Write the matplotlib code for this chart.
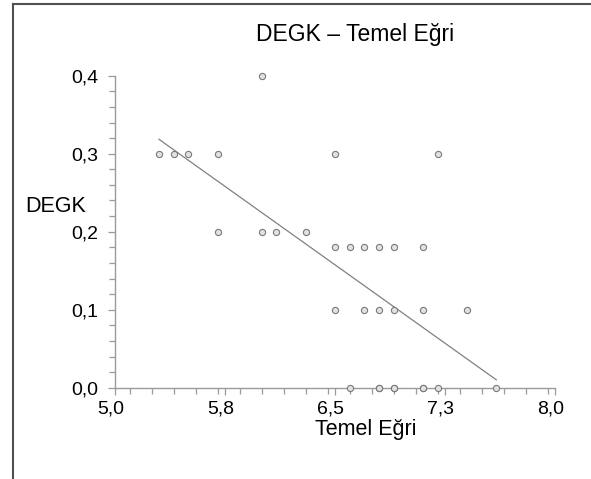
import numpy as np
import matplotlib.pyplot as plt
import matplotlib.transforms as mtransforms
from matplotlib.lines import Line2D
from matplotlib.ticker import MultipleLocator, FixedLocator

plt.rcParams['font.family'] = ['Liberation Sans', 'DejaVu Sans']

# Temel Egri (x) and DEGK (y) values
# (some points at y=0 sit on top of each other)
temel_egri = [5.3, 5.4, 5.5, 5.7, 6.0,
              5.7, 6.0, 6.1, 6.3,
              6.5, 7.2,
              6.5, 6.6, 6.7, 6.8, 6.9, 7.1,
              6.5, 6.7, 6.8, 6.9, 7.1, 7.4,
              6.6, 6.8, 6.8, 6.9, 6.9, 7.1, 7.1, 7.2, 7.6]
degk = [0.3, 0.3, 0.3, 0.3, 0.4,
        0.2, 0.2, 0.2, 0.2,
        0.3, 0.3,
        0.18, 0.18, 0.18, 0.18, 0.18, 0.18,
        0.1, 0.1, 0.1, 0.1, 0.1, 0.1,
        0.0, 0.0, 0.0, 0.0, 0.0, 0.0, 0.0, 0.0, 0.0]

x_ticks = [5.0, 5.75, 6.5, 7.25, 8.0]
x_tick_labels = ["5,0", "5,8", "6,5", "7,3", "8,0"]
y_ticks = [0.0, 0.1, 0.2, 0.3, 0.4]
y_tick_labels = ["0,0", "0,1", "0,2", "0,3", "0,4"]

x = np.array(temel_egri)
y = np.array(degk)

W, H = 591, 479
fig = plt.figure(figsize=(W / 100, H / 100), dpi=100)
ax = fig.add_axes([115 / W, 1 - 387.7 / H, 440 / W, 312 / H])

ax.scatter(x, y, s=20, facecolor='#e2e2e2', edgecolor='#7a7a7a',
           linewidth=0.8, zorder=3, clip_on=False)

# least squares fit line
k, b = np.polyfit(x, y, 1)
xs = np.array([x.min(), x.max()])
ax.plot(xs, k * xs + b, color='#808080', linewidth=0.9)

ax.set_xlim(5.0, 8.0)
ax.set_ylim(0.0, 0.4)
ax.xaxis.set_major_locator(FixedLocator(x_ticks))
ax.set_xticklabels(x_tick_labels)
ax.xaxis.set_minor_locator(MultipleLocator(0.15))
ax.yaxis.set_major_locator(FixedLocator(y_ticks))
ax.set_yticklabels(y_tick_labels)
ax.yaxis.set_minor_locator(MultipleLocator(0.02))

for s in ['top', 'right']:
    ax.spines[s].set_visible(False)
for s in ['left', 'bottom']:
    ax.spines[s].set_color('#9a9a9a')
    ax.spines[s].set_linewidth(1.0)

ax.tick_params(which='major', length=5, width=0.9, color='#9a9a9a',
               labelsize=14, labelcolor='black')
ax.tick_params(which='minor', length=4, width=0.9, color='#9a9a9a')
ax.tick_params(axis='y', which='major', pad=7)
ax.tick_params(axis='x', which='major', pad=4)

# x tick labels sit a little left of their ticks in the original
shift = mtransforms.ScaledTranslation(-4 / 100, 0, fig.dpi_scale_trans)
for lbl in ax.get_xticklabels():
    lbl.set_transform(lbl.get_transform() + shift)

fig.text(355 / W, 1 - 35 / H, "DEGK – Temel Eğri", fontsize=16.5,
         ha='center', va='center')
fig.text(56 / W, 1 - 207 / H, "DEGK", fontsize=15.5, ha='center', va='center')
fig.text(366 / W, 1 - 430 / H, "Temel Eğri", fontsize=15.5,
         ha='center', va='center')

# frame of the cropped screenshot (top and left edges)
fig.add_artist(Line2D([12.5 / W, 1], [1 - 4 / H, 1 - 4 / H],
                      transform=fig.transFigure, color='#505050', linewidth=1.5))
fig.add_artist(Line2D([12.5 / W, 12.5 / W], [0, 1 - 4 / H],
                      transform=fig.transFigure, color='#505050', linewidth=1.5))

fig.savefig('out.png', dpi=100)
